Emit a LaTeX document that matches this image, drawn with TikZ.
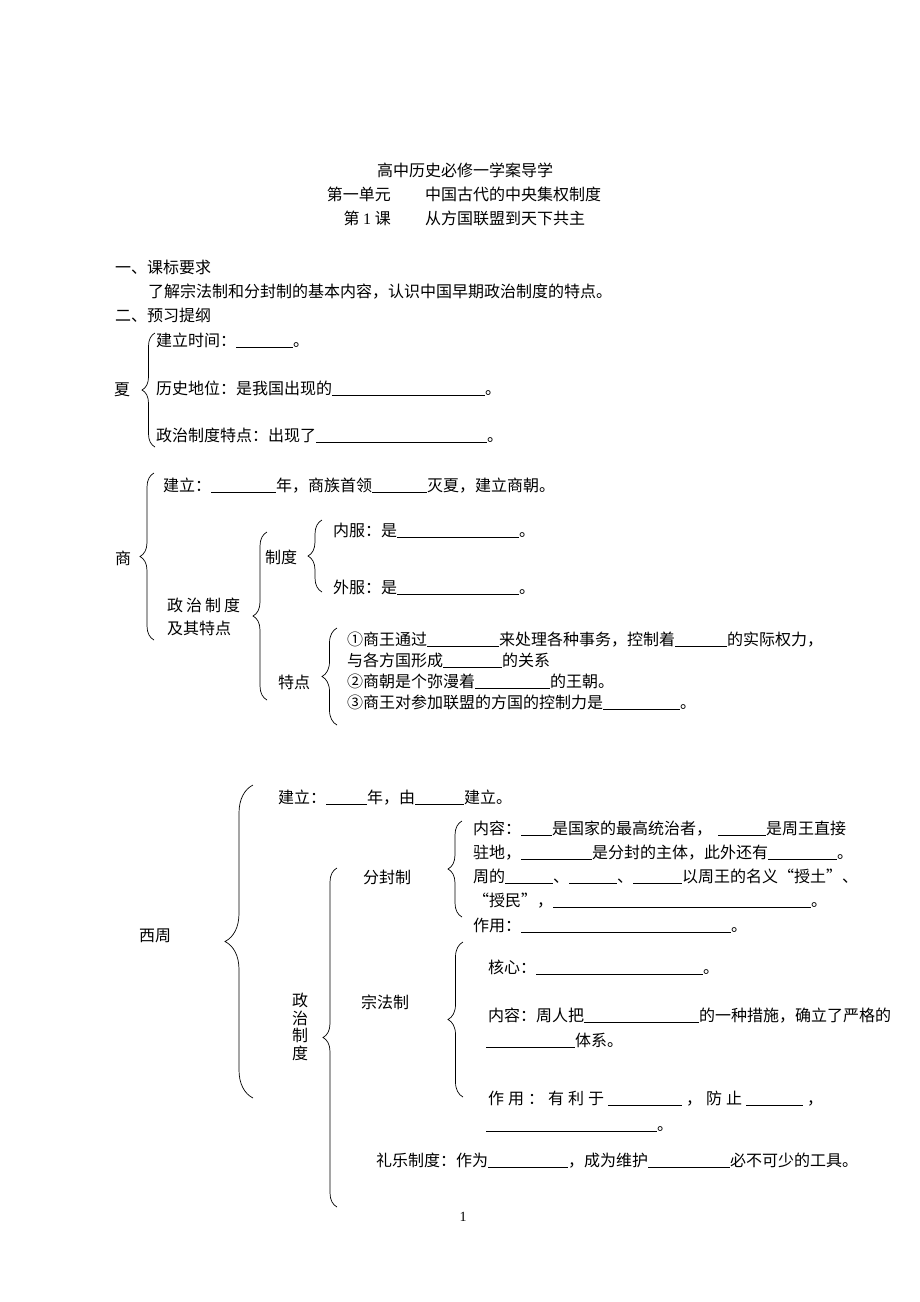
\documentclass[tikz,border=0pt]{standalone}
\usepackage{fontspec}
\setmainfont{Liberation Serif}
\newfontfamily\cjk{Noto Sans CJK SC}
\usetikzlibrary{positioning,decorations.pathreplacing}
\XeTeXlinebreaklocale "zh"
\XeTeXlinebreakskip=0pt plus 1pt
\newcommand{\blk}[1]{\rule[-1.5pt]{#1pt}{0.6pt}}
\tikzset{
  txt/.style={anchor=west, inner sep=0pt, font=\cjk\fontsize{16}{18}\selectfont, text height=13pt, text depth=1pt},
  ctr/.style={txt, anchor=center},
  vert/.style={anchor=center, inner sep=0pt, align=center, font=\cjk\fontsize{16}{17.5}\selectfont},
  zbrace/.style={decorate, decoration={brace, amplitude=#1}, line width=0.7pt},
}

\begin{document}
\begin{tikzpicture}[x=1pt, y=-1pt]
    \fill[white] (0,0) rectangle (920,1302);
    \useasboundingbox (0,0) rectangle (920,1302);

    % Title
    \node[ctr] (title) at (465,170) {高中历史必修一学案导学};
    \node[txt, anchor=east] (unit) at (391,194) {第一单元};
    \node[txt] (unitname) at (425,194) {中国古代的中央集权制度};
    \node[txt, anchor=east] (lesson) at (391,218) {第 {\rmfamily 1} 课};
    \node[txt] (lessonname) at (425,218) {从方国联盟到天下共主};

    % Requirements
    \node[txt] (req) at (115,267) {一、课标要求};
    \node[txt] (reqtext) at (148,291) {\makebox[487pt][s]{了解宗法制和分封制的基本内容，认识中国早期政治制度的特点。}};
    \node[txt] (outline) at (115,315) {二、预习提纲};

    % Xia
    \node[ctr] (xia) at (122,389) {夏};
    \draw[zbrace=13] (155,447) -- (155,333);
    \node[txt] (xia1) at (156,340) {建立时间：\blk{57}。};
    \node[txt] (xia2) at (156,388) {历史地位：是我国出现的\blk{153}。};
    \node[txt] (xia3) at (156,435) {政治制度特点：出现了\blk{171}。};

    % Shang
    \node[ctr] (shang) at (123,558) {商};
    \draw[zbrace=14] (154,640) -- (154,473);
    \node[txt] (shang1) at (163,485) {建立：\blk{65}年，商族首领\blk{55}灭夏，建立商朝。};
    \node[txt] (shangpol) at (167,605) {政\hspace{3pt}治\hspace{3pt}制\hspace{3pt}度};
    \node[txt] (shangpolb) at (167,628) {及其特点};
    \draw[zbrace=14] (267,700) -- (267,532);
    \node[txt] (zhidu) at (265,557) {制度};
    \draw[zbrace=14] (322,592) -- (322,520);
    \node[txt] (neifu) at (333,530) {内服：是\blk{122}。};
    \node[txt] (waifu) at (333,587) {外服：是\blk{122}。};
    \node[txt] (tedian) at (278,682) {特点};
    \draw[zbrace=15] (337,725) -- (337,628);
    \node[txt] (td1) at (347,639) {①商王通过\blk{72}来处理各种事务，控制着\blk{52}的实际权力，};
    \node[txt] (td1b) at (347,660) {与各方国形成\blk{59}的关系};
    \node[txt] (td2) at (347,681) {②商朝是个弥漫着\blk{75}的王朝。};
    \node[txt] (td3) at (347,702) {③商王对参加联盟的方国的控制力是\blk{77}。};

    % Western Zhou
    \node[ctr] (xizhou) at (155,935) {西周};
    \draw[zbrace=28] (253,1098) -- (253,785);
    \node[txt] (zhou1) at (278,797) {建立：\blk{41}年，由\blk{49}建立。};
    \draw[zbrace=14] (337,1207) -- (337,868);
    \node[vert] (zhoupol) at (300,1027) {政\\治\\制\\度};

    % Fenfeng
    \node[txt] (fenfeng) at (363,877) {分封制};
    \draw[zbrace=14] (462,917) -- (462,821);
    \node[txt] (ff1) at (473,828) {内容：\blk{31}是国家的最高统治者，\hspace{6pt}\blk{48}是周王直接};
    \node[txt] (ff2) at (473,852) {驻地，\blk{71}是分封的主体，此外还有\blk{69}。};
    \node[txt] (ff3) at (473,876) {周的\blk{48}、\blk{48}、\blk{49}以周王的名义“授土”、};
    \node[txt] (ff4) at (473,900) {“授民”，\blk{258}。};
    \node[txt] (ff5) at (473,925) {作用：\blk{210}。};

    % Zongfa
    \node[txt] (zongfa) at (361,1002) {宗法制};
    \draw[zbrace=15] (463,1097) -- (463,942);
    \node[txt] (zf1) at (488,967) {核心：\blk{167}。};
    \node[txt] (zf2) at (488,1015) {内容：周人把\blk{115}的一种措施，确立了严格的};
    \node[txt] (zf2b) at (486,1040) {\blk{89}体系。};
    \node[txt] (zf3) at (488,1098) {作\hspace{4pt}用\hspace{4pt}：\hspace{4pt}有\hspace{4pt}利\hspace{4pt}于\hspace{4pt}\blk{74}\hspace{4pt}，\hspace{4pt}防\hspace{4pt}止\hspace{4pt}\blk{57}\hspace{4pt}，};
    \node[txt] (zf3b) at (486,1124) {\blk{171}。};

    % Liyue
    \node[txt] (liyue) at (376,1160) {礼乐制度：作为\blk{80}，成为维护\blk{82}必不可少的工具。};

    % Page number
    \node[inner sep=0pt, font=\fontsize{14}{16}\selectfont] (pagenum) at (463,1217) {1};
\end{tikzpicture}
\end{document}
